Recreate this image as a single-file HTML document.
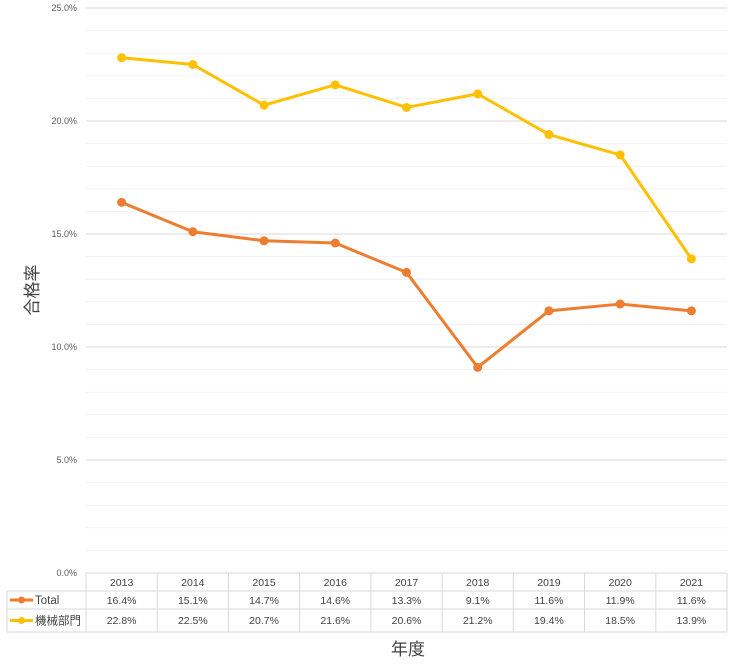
<!DOCTYPE html>
<html><head><meta charset="utf-8"><style>
body{margin:0;background:#fff;width:745px;height:660px;overflow:hidden;font-family:"Liberation Sans","Noto Sans CJK JP",sans-serif;}
svg text{font-family:"Liberation Sans","Noto Sans CJK JP",sans-serif;}
</style></head><body>
<svg id="chart" width="745" height="660" xmlns="http://www.w3.org/2000/svg">
<g id="grid"></g>
<g id="yticks"></g>
<g id="series"></g>
<g id="table"></g>
<text x="0" y="0" transform="translate(38,290) rotate(-90)" text-anchor="middle" font-size="17" fill="#404040">合格率</text>
<text x="408" y="655" text-anchor="middle" font-size="17" fill="#404040">年度</text>
</svg>
<script>
const categories=["2013","2014","2015","2016","2017","2018","2019","2020","2021"];
const totalValues=[16.4,15.1,14.7,14.6,13.3,9.1,11.6,11.9,11.6];
const mechValues=[22.8,22.5,20.7,21.6,20.6,21.2,19.4,18.5,13.9];
const yTicks=[0,5,10,15,20,25];
const seriesNames=["Total","機械部門"];

const NS="http://www.w3.org/2000/svg";
const X0=86,X1=727,Y0=573,Y1=8,YMAX=25;
const bw=(X1-X0)/categories.length;
const xs=i=>X0+bw*(i+0.5);
const ys=v=>Y0-(v/YMAX)*(Y0-Y1);
function mk(tag,attrs,parent){const e=document.createElementNS(NS,tag);for(const k in attrs)e.setAttribute(k,attrs[k]);parent.appendChild(e);return e;}
const grid=document.getElementById('grid'),yt=document.getElementById('yticks'),ser=document.getElementById('series'),tb=document.getElementById('table');
for(let v=1;v<YMAX;v++){ if(v%5===0)continue;
 const l=mk('line',{x1:X0,x2:X1,y1:ys(v),y2:ys(v),stroke:'#f2f2f2','stroke-width':1},grid);
 
 
}
yTicks.forEach(v=>{
 if(v>0){const l=mk('line',{x1:X0,x2:X1,y1:ys(v),y2:ys(v),stroke:'#d9d9d9','stroke-width':1},grid);
 
 }
 const t=mk('text',{x:77,y:ys(v)+3,'text-anchor':'end','font-size':9,fill:'#595959'},yt);
 t.textContent=v.toFixed(1)+'%';
 
 
});
function drawSeries(vals,color,name){
 const p=mk('polyline',{points:vals.map((v,i)=>xs(i)+','+ys(v)).join(' '),fill:'none',stroke:color,'stroke-width':3,'stroke-linejoin':'round'},ser);
 
 
 vals.forEach((v,i)=>{const c=mk('circle',{cx:xs(i),cy:ys(v),r:4.5,fill:color},ser);
 
 });
}
drawSeries(totalValues,'#ed7d31','total');
drawSeries(mechValues,'#ffc000','mechanical');
const R0=573,R1=591,R2=609,R3=632,L=7;
const bc='#d9d9d9';
[[X0,R0,X1,R0],[L,R1,X1,R1],[L,R2,X1,R2],[L,R3,X1,R3],[L,R1,L,R3],[X1,R0,X1,R3]].forEach(a=>{
 const l=mk('line',{x1:a[0],y1:a[1],x2:a[2],y2:a[3],stroke:bc},tb);
 
 
});
for(let i=0;i<categories.length;i++){
 const l=mk('line',{x1:X0+bw*i,x2:X0+bw*i,y1:R0,y2:R3,stroke:bc},tb);
 
 
}
function cell(txt,x,y,name,anchor,fs){const t=mk('text',{x:x,y:y,'text-anchor':anchor||'middle','font-size':fs||10.5,fill:'#404040'},tb);t.textContent=txt;
 
 }
categories.forEach((c,i)=>cell(c,xs(i),R0+13,'table-year'));
totalValues.forEach((v,i)=>cell(v.toFixed(1)+'%',xs(i),R1+13,'table-total-value'));
mechValues.forEach((v,i)=>cell(v.toFixed(1)+'%',xs(i),R2+15,'table-mech-value'));
[['#ed7d31',(R1+R2)/2,0],['#ffc000',(R2+R3)/2,1]].forEach(a=>{
 const l=mk('line',{x1:10,x2:33,y1:a[1],y2:a[1],stroke:a[0],'stroke-width':3},tb);
 
 
 const c=mk('circle',{cx:21.5,cy:a[1],r:3.5,fill:a[0]},tb);
 
 
 cell(seriesNames[a[2]],35,a[1]+4,'legend-label','start',11.5);
});
</script>
</body></html>
